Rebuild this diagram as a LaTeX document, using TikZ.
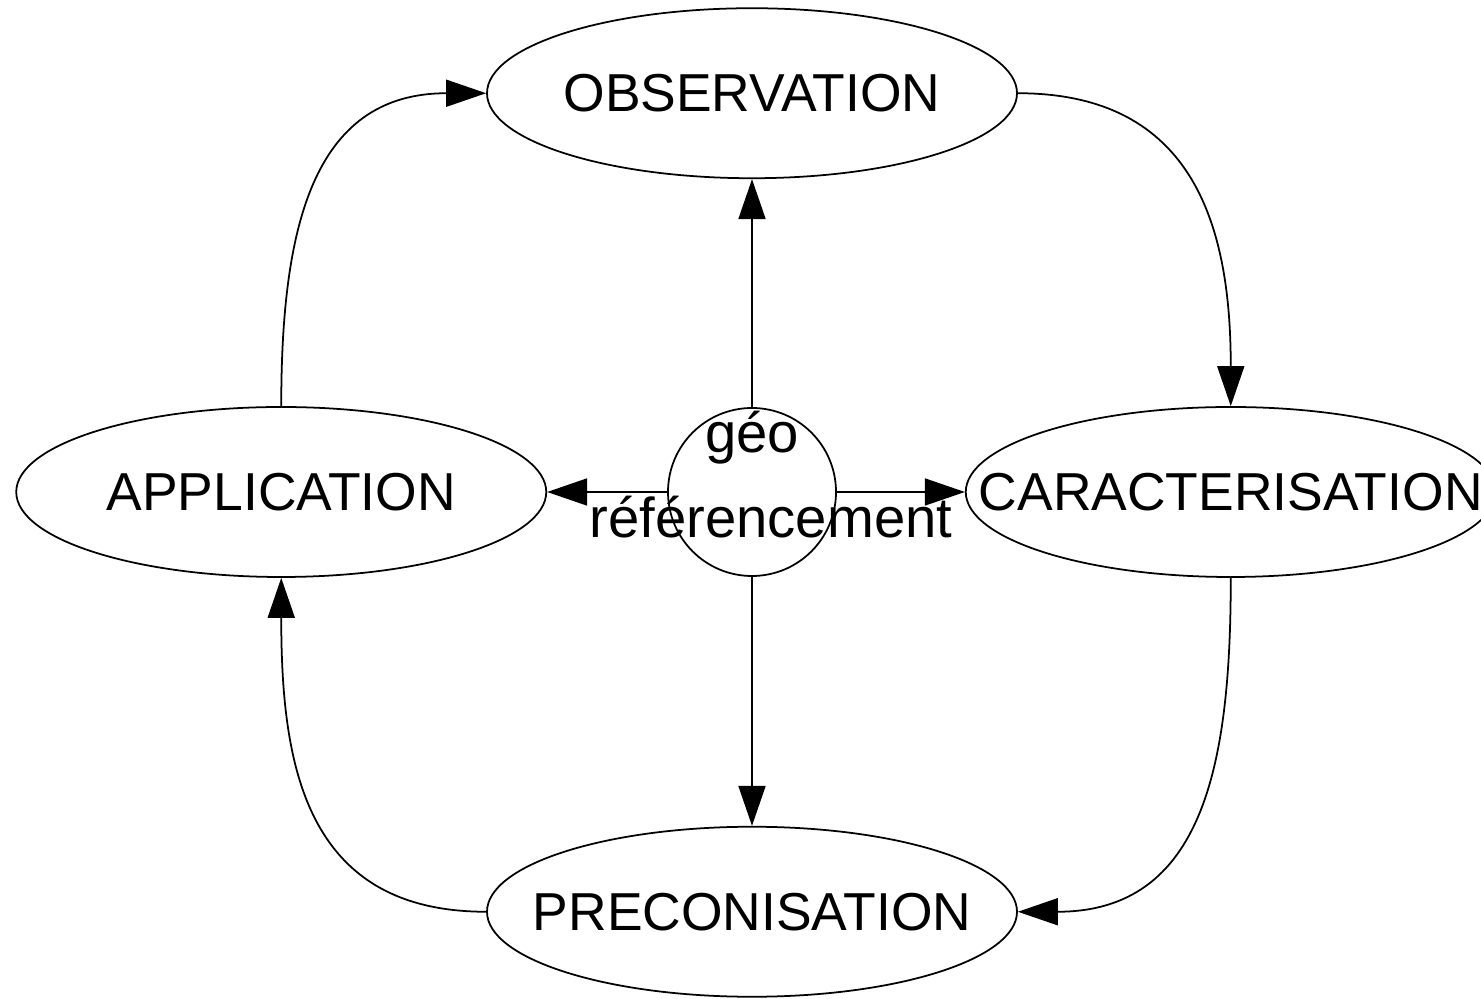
\documentclass[tikz,border=0pt]{standalone}
\usepackage{fontspec}
\setmainfont{Liberation Sans}
\usetikzlibrary{shapes.geometric,positioning,arrows.meta}

\begin{document}
\begin{tikzpicture}[>={Triangle[length=4mm,width=2.7mm]},line width=0.5pt]

  \useasboundingbox (0,0) rectangle (14.81,9.99);

  % Centre
  \node[draw,circle,minimum size=1.68cm,inner sep=0pt] (geo) at (7.52,5.07) {};
  \begin{scope}[every node/.style={anchor=base,font=\fontsize{16}{19}\selectfont}]
    \node (geotop) at ([yshift=0.39cm]geo.center) {géo};
    \node (geobot) at ([xshift=0.19cm,yshift=-0.46cm]geo.center) {référencement};
  \end{scope}

  % Steps
  \begin{scope}[every node/.style={draw,ellipse,minimum width=5.3cm,minimum height=1.7cm,inner sep=0pt,font=\fontsize{15.2}{18}\selectfont}]
    \node (obs) at (geo.north) [above=2.28cm] {\makebox[0pt]{OBSERVATION}};
    \node (app) at (geo.west) [left=1.2cm] {\makebox[0pt]{APPLICATION}};
    \node (car) at (geo.east) [right=1.28cm] {\makebox[0pt]{CARACTERISATION}};
    \node (pre) at (geo.south) [below=2.49cm] {\makebox[0pt]{PRECONISATION}};
  \end{scope}

  \draw[->] (geo) -- (obs);
  \draw[->] (geo) -- (app);
  \draw[->] (geo) -- (car);
  \draw[->] (geo) -- (pre);

  % Cycle
  \draw[->] (obs.east) to[out=0,in=90,looseness=1.2] (car.north);
  \draw[->] (car.south) to[out=-90,in=0,looseness=1.2] (pre.east);
  \draw[->] (pre.west) to[out=180,in=-90,looseness=1.2] (app.south);
  \draw[->] (app.north) to[out=90,in=180,looseness=1.2] (obs.west);

\end{tikzpicture}
\end{document}
